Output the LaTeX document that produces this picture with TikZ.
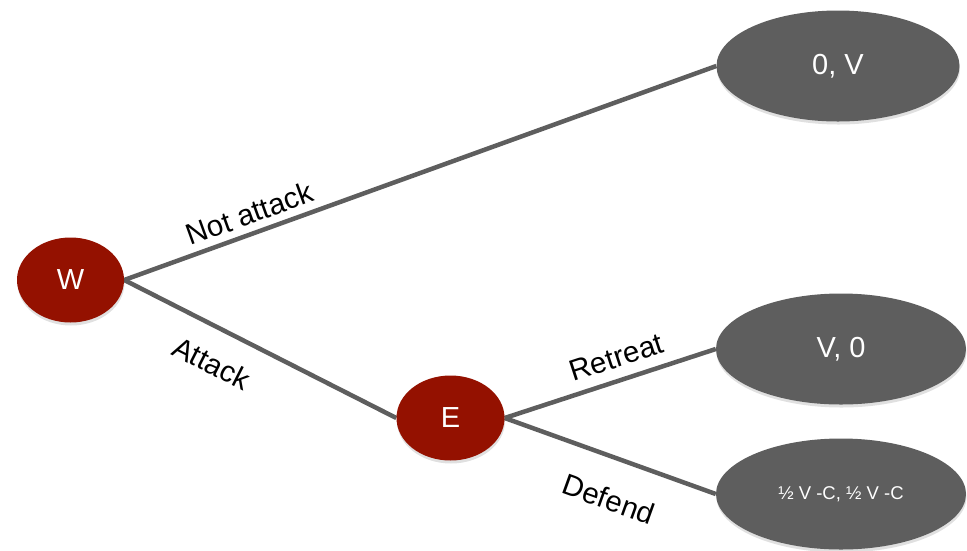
\documentclass[tikz,border=0pt]{standalone}
\usepackage{fontspec}
\setmainfont{Liberation Sans}
\usetikzlibrary{shapes.geometric,shadows}
\definecolor{nodered}{HTML}{941100}
\definecolor{nodegrey}{HTML}{5E5E5E}
\definecolor{edgegrey}{HTML}{5E5E5E}
\pgfdeclarelayer{edgelayer}
\pgfsetlayers{edgelayer,main}
\begin{document}
\begin{tikzpicture}[x=1pt,y=-1pt,
  softshadow/.style={drop shadow={shadow xshift=0.5pt,shadow yshift=-3pt,opacity=0.12,fill=black}},
  decision/.style={ellipse,fill=nodered,text=white,inner sep=0pt,
    minimum width=107pt,minimum height=85pt,font=\fontsize{29}{29}\selectfont,softshadow},
  payoff/.style={ellipse,fill=nodegrey,text=white,inner sep=0pt,
    minimum width=250pt,minimum height=111pt,font=\fontsize{29}{29}\selectfont,softshadow},
  branch/.style={draw=edgegrey,line width=4.5pt},
  lbl/.style={sloped,inner sep=0pt,font=\fontsize{29.5}{29.5}\selectfont,text=black}]
\useasboundingbox (0,0) rectangle (967,550);
% nodes
\node[decision] (W) at (70.5,280) {W};
\node[decision,minimum width=108pt] (E) at (450.5,418) {E};
\node[payoff,minimum width=243pt] (NV) at (838,66) {0, V};
\node[payoff] (VZ) at (841,349) {V, 0};
\node[payoff,font=\fontsize{18.5}{18.5}\selectfont] (HC) at (841,494) {½ V -C, ½ V -C};
% edges behind the nodes
\begin{pgfonlayer}{edgelayer}
\draw[branch] (W.east) -- node[lbl,pos=0.223,above=7pt] (lNA) {Not attack} (NV.west);
\draw[branch] (W.east) -- node[lbl,pos=0.379,below=21.5pt] (lA) {Attack} (E.west);
\draw[branch] (E.east) -- node[lbl,pos=0.563,above=10.4pt] (lR) {Retreat} (VZ.west);
\draw[branch] (E.east) -- node[lbl,pos=0.559,below=28pt] (lD) {Defend} (HC.west);
\end{pgfonlayer}
\end{tikzpicture}
\end{document}
